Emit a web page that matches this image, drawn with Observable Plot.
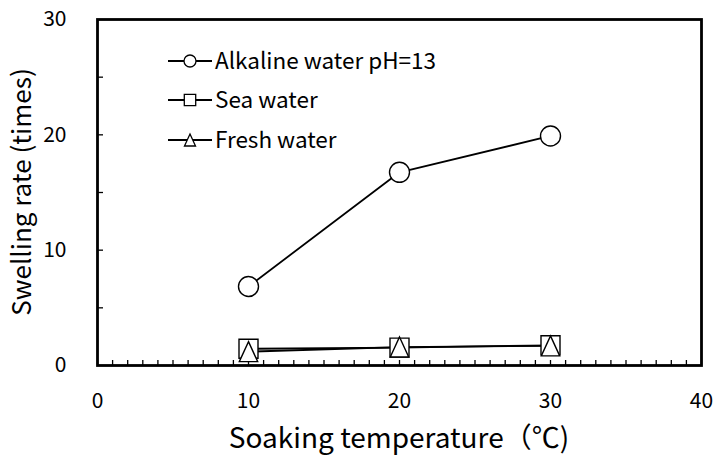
<!DOCTYPE html>
<html><head><meta charset="utf-8">
<script src="https://cdn.jsdelivr.net/npm/d3@7"></script>
<script src="https://cdn.jsdelivr.net/npm/@observablehq/plot@0.6"></script>
<style>body{margin:0;background:#fff}</style>
</head><body><div id="chart"></div>
<script>
const temperatures = [10, 20, 30];
const alkaline = [6.85, 16.75, 19.9];
const sea = [1.45, 1.55, 1.75];
const fresh = [1.2, 1.6, 1.7];
const seriesNames = ["Alkaline water pH=13", "Sea water", "Fresh water"];
const symbolNames = ["circle", "square", "triangle"];
const xTicks = [0, 10, 20, 30, 40];
const yTicks = [0, 10, 20, 30];
const xLabel = "Soaking temperature（℃)";
const yLabel = "Swelling rate (times)";

// marker shapes (centered on their bounding box, like spreadsheet markers)
const shapes = {
  circle: {draw(ctx, size) { const r = Math.sqrt(size / Math.PI); ctx.moveTo(r, 0); ctx.arc(0, 0, r, 0, 2 * Math.PI); }},
  square: {draw(ctx, size) { const r = Math.sqrt(size / Math.PI) * 0.95; ctx.rect(-r, -r, 2 * r, 2 * r); }},
  triangle: {draw(ctx, size) { const r = Math.sqrt(size / Math.PI); const w = 0.92 * r, h = r; ctx.moveTo(0, -h); ctx.lineTo(w, h); ctx.lineTo(-w, h); ctx.closePath(); }}
};

const seriesValues = [alkaline, sea, fresh];
const rows = seriesValues.flatMap((vals, i) => vals.map((v, j) => ({series: seriesNames[i], sym: symbolNames[i], x: temperatures[j], y: v})));

const W = 717, H = 457, mL = 97, mR = 16, mT = 19, mB = 92;
const font = "'Noto Sans CJK JP', 'Noto Sans', sans-serif";

const plot = Plot.plot({
  width: W, height: H,
  marginLeft: mL, marginRight: mR, marginTop: mT, marginBottom: mB,
  style: {fontFamily: font, fontSize: "21px", color: "#000", background: "#fff"},
  x: {domain: [0, 40]},
  y: {domain: [0, 30]},
  marks: [
    Plot.tickX(d3.range(0, 41), {x: d => d, insetTop: H - mT - mB - 5, stroke: "#000", strokeWidth: 1.3}),
    Plot.tickY(d3.range(5, 30, 5), {y: d => d, insetRight: W - mL - mR - 6, stroke: "#000", strokeWidth: 1.3}),
    Plot.axisX({ticks: xTicks, tickSize: 0, tickPadding: 28, fontSize: 21, label: null}),
    Plot.axisY({ticks: yTicks, tickSize: 0, tickPadding: 31, fontSize: 21, label: null}),
    Plot.line(rows, {x: "x", y: "y", z: "series", stroke: "#000", strokeWidth: 1.8}),
    ...symbolNames.map(s => Plot.dot(rows.filter(d => d.sym === s), {x: "x", y: "y", symbol: shapes[s], r: 10, fill: "#fff", stroke: "#000", strokeWidth: 1.4})),
    Plot.frame({stroke: "#000", strokeWidth: 2.8})
  ]
});
document.getElementById("chart").appendChild(plot);

const svg = d3.select(plot);
// axis titles
svg.append("text").attr("x", (mL + W - mR) / 2).attr("y", 448).attr("text-anchor", "middle")
  .attr("font-family", font).attr("font-size", 28).attr("fill", "#000").text(xLabel);
svg.append("text").attr("transform", `translate(31,${(mT + H - mB) / 2}) rotate(-90)`).attr("text-anchor", "middle")
  .attr("font-family", font).attr("font-size", 26).attr("fill", "#000").text(yLabel);

// legend
const legendRows = [61, 100, 140];
seriesNames.forEach((name, i) => {
  const g = svg.append("g").attr("transform", `translate(0,${legendRows[i]})`);
  g.append("line").attr("x1", 168).attr("x2", 212).attr("y1", 0).attr("y2", 0).attr("stroke", "#000").attr("stroke-width", 1.8);
  g.append("path").attr("transform", "translate(190,0)").attr("d", d3.symbol(shapes[symbolNames[i]], Math.PI * 36)())
    .attr("fill", "#fff").attr("stroke", "#000").attr("stroke-width", 1.3);
  g.append("text").attr("x", 215).attr("y", 0).attr("dy", "0.36em").attr("text-anchor", "start")
    .attr("font-family", font).attr("font-size", 22.5).attr("fill", "#000").text(name);
});
</script></body></html>
